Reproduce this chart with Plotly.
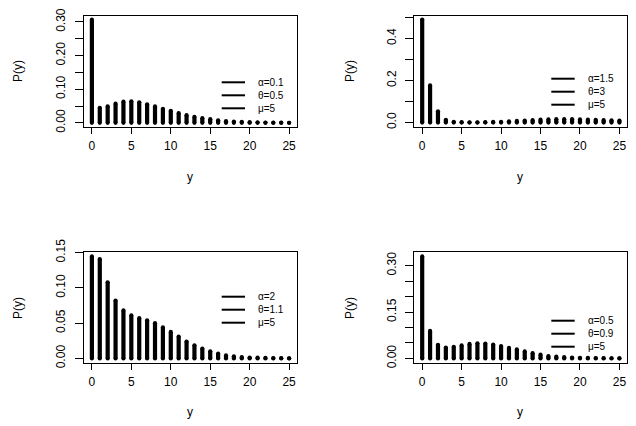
import plotly.graph_objects as go

W, H = 636, 426

y_values = list(range(26))

p_panel1 = [0.307, 0.045, 0.049, 0.057, 0.063, 0.064, 0.061, 0.055, 0.049, 0.042,
            0.036, 0.029, 0.023, 0.018, 0.014, 0.011, 0.0075, 0.005, 0.004, 0.003,
            0.002, 0.0015, 0.001, 0.0007, 0.0005, 0.0003]
p_panel2 = [0.490, 0.177, 0.054, 0.013, 0.004, 0.002, 0.001, 0.001, 0.002, 0.003,
            0.004, 0.006, 0.008, 0.010, 0.012, 0.014, 0.015, 0.016, 0.016, 0.016,
            0.015, 0.014, 0.013, 0.012, 0.011, 0.010]
p_panel3 = [0.1447, 0.141, 0.108, 0.082, 0.068, 0.061, 0.057, 0.054, 0.050, 0.044,
            0.0375, 0.031, 0.024, 0.0187, 0.014, 0.010, 0.007, 0.0042, 0.003, 0.002,
            0.0013, 0.001, 0.0007, 0.0005, 0.0003, 0.0002]
p_panel4 = [0.330, 0.089, 0.044, 0.035, 0.0375, 0.042, 0.047, 0.049, 0.048, 0.045,
            0.040, 0.034, 0.029, 0.0225, 0.017, 0.012, 0.0077, 0.0055, 0.004, 0.003,
            0.002, 0.0015, 0.001, 0.0007, 0.0005, 0.0003]

legend_panel1 = ["α=0.1", "θ=0.5", "μ=5"]
legend_panel2 = ["α=1.5", "θ=3", "μ=5"]
legend_panel3 = ["α=2", "θ=1.1", "μ=5"]
legend_panel4 = ["α=0.5", "θ=0.9", "μ=5"]

x_ticks = [0, 5, 10, 15, 20, 25]
y_ticks1 = [0, 0.05, 0.10, 0.15, 0.20, 0.25, 0.30]
y_text1 = ["0.00", "", "0.10", "", "0.20", "", "0.30"]
y_ticks2 = [0, 0.1, 0.2, 0.3, 0.4, 0.5]
y_text2 = ["0.0", "", "0.2", "", "0.4", ""]
y_ticks3 = [0, 0.05, 0.10, 0.15]
y_text3 = ["0.00", "0.05", "0.10", "0.15"]
y_ticks4 = [0, 0.05, 0.10, 0.15, 0.20, 0.25, 0.30]
y_text4 = ["0.00", "", "", "0.15", "", "", "0.30"]

FONT = "Liberation Sans, Arial, Helvetica, sans-serif"

panels = [
    dict(p=p_panel1, leg=legend_panel1, yt=y_ticks1, ytt=y_text1,
         box=(84, 297, 15.5, 127), legx=(221.7, 245, 256), legy=95.3,
         ylab=(18, 71), xlab=(190, 177)),
    dict(p=p_panel2, leg=legend_panel2, yt=y_ticks2, ytt=y_text2,
         box=(414.3, 627.3, 15.5, 126.7), legx=(551.3, 574.7, 586.3), legy=91.7,
         ylab=(350, 71), xlab=(520, 177)),
    dict(p=p_panel3, leg=legend_panel3, yt=y_ticks3, ytt=y_text3,
         box=(84, 297, 252.3, 362.5), legx=(221.7, 245, 256), legy=309.7,
         ylab=(18, 308), xlab=(190, 412)),
    dict(p=p_panel4, leg=legend_panel4, yt=y_ticks4, ytt=y_text4,
         box=(414.3, 627.3, 252.3, 362.5), legx=(551.3, 574.7, 586.3), legy=333.7,
         ylab=(350, 308), xlab=(520, 412)),
]

LEG_FS = 10
LEG_STEP = 13

fig = go.Figure()
shapes = []
annotations = []

def px(x):
    return x / W

def py(y):
    return 1 - y / H

for i, pan in enumerate(panels, start=1):
    xs, ys = [], []
    for k, v in zip(y_values, pan["p"]):
        xs += [k, k, None]
        ys += [0, v, None]
    fig.add_trace(go.Scatter(
        x=xs, y=ys, mode="lines+markers",
        line=dict(color="black", width=4.2),
        marker=dict(color="black", size=4.2, line=dict(width=0)),
        xaxis=f"x{i}", yaxis=f"y{i}", showlegend=False, hoverinfo="skip"))

    x0, x1, yt, yb = pan["box"]
    pmax = max(pan["p"])
    ext = 0.04 * pmax
    axcommon = dict(showline=True, mirror=True, linecolor="black", linewidth=1,
                    showgrid=False, zeroline=False, ticks="outside",
                    tickcolor="black", tickwidth=1, automargin=False,
                    tickfont=dict(family=FONT, size=12, color="black"))
    fig.layout[f"xaxis{i}"] = dict(
        domain=[px(x0), px(x1)], range=[-1, 26], anchor=f"y{i}",
        tickmode="array", tickvals=x_ticks, ticktext=[str(t) for t in x_ticks],
        ticklen=6, ticklabelstandoff=2, **axcommon)
    fig.layout[f"yaxis{i}"] = dict(
        domain=[py(yb), py(yt)], range=[-ext, pmax + ext], anchor=f"x{i}",
        tickmode="array", tickvals=pan["yt"], ticktext=pan["ytt"], tickangle=-90,
        ticklen=8, ticklabelstandoff=5, **axcommon)

    lx0, lx1, tx = pan["legx"]
    lyc = pan["legy"]
    for j in range(len(pan["leg"])):
        ly = lyc + (j - 1) * LEG_STEP
        shapes.append(dict(type="line", xref="paper", yref="paper",
                           x0=px(lx0), x1=px(lx1), y0=py(ly), y1=py(ly),
                           line=dict(color="black", width=2)))
    annotations.append(dict(text="<br>".join(pan["leg"]), xref="paper", yref="paper",
                            x=px(tx), y=py(lyc), xanchor="left", yanchor="middle",
                            align="left", showarrow=False,
                            font=dict(family=FONT, size=LEG_FS, color="black")))

    ax, ay = pan["ylab"]
    annotations.append(dict(text="P(y)", xref="paper", yref="paper", x=px(ax), y=py(ay),
                            xanchor="center", yanchor="middle", textangle=-90,
                            showarrow=False, font=dict(family=FONT, size=12, color="black")))
    bx, by = pan["xlab"]
    annotations.append(dict(text="y", xref="paper", yref="paper", x=px(bx), y=py(by),
                            xanchor="center", yanchor="middle",
                            showarrow=False, font=dict(family=FONT, size=12, color="black")))

fig.update_layout(width=W, height=H, margin=dict(l=0, r=0, t=0, b=0),
                  paper_bgcolor="white", plot_bgcolor="white",
                  shapes=shapes, annotations=annotations, showlegend=False)

fig.write_html("out.html", config={"displayModeBar": False},
               post_script="document.body.style.margin='0px';document.body.style.padding='0px';")
